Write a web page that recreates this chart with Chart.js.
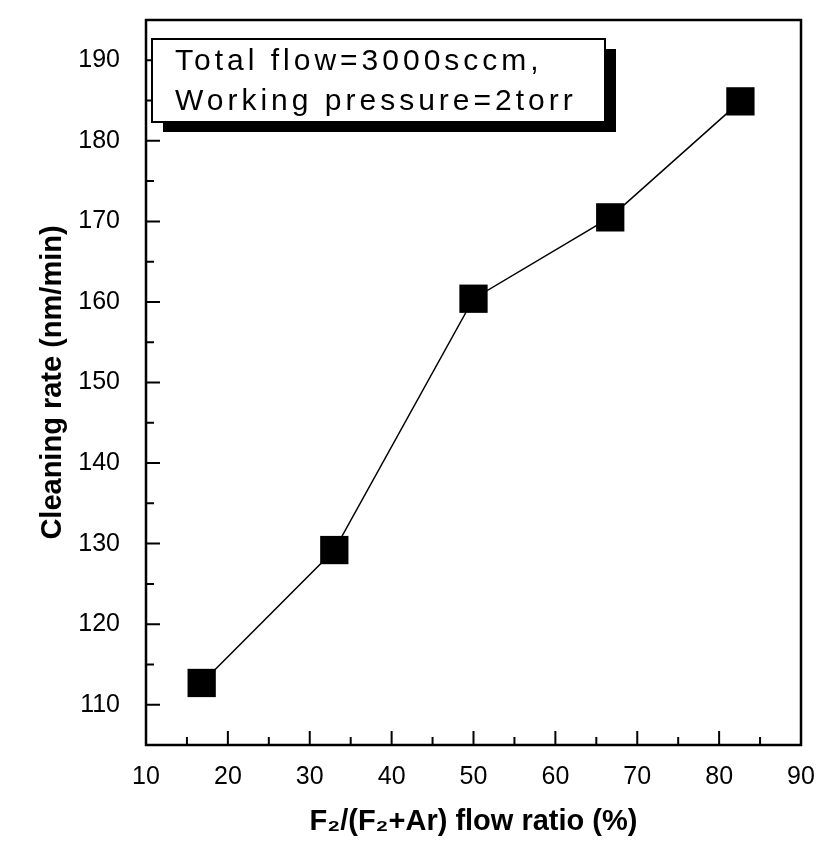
<!DOCTYPE html>
<html>
<head>
<meta charset="utf-8">
<script src="https://cdn.jsdelivr.net/npm/chart.js@4.4.0/dist/chart.umd.min.js"></script>
<style>
  html, body { margin: 0; padding: 0; background: #fff; }
  #wrap { width: 821px; height: 845px; position: relative; }
</style>
</head>
<body>
<div id="wrap"><canvas id="myChart1"></canvas></div>
<script>
// values
let flowRatio = [16.8, 33, 50, 66.7, 82.6];
let cleaningRate = [112.7, 129.2, 160.4, 170.5, 184.9];
let xTicks = [10, 20, 30, 40, 50, 60, 70, 80, 90];
let yTicks = [110, 120, 130, 140, 150, 160, 170, 180, 190];
let noteLines = ["Total flow=3000sccm,", "Working pressure=2torr"];

const FONT = "'Liberation Sans', Arial, sans-serif";

// inward major/minor ticks like the original plot
const inwardTicks = {
  id: 'inwardTicks',
  afterDatasetsDraw(chart) {
    const ctx = chart.ctx, a = chart.chartArea;
    const xs = chart.scales.x, ys = chart.scales.y;
    ctx.save();
    ctx.strokeStyle = '#000';
    ctx.lineWidth = 2;
    ctx.beginPath();
    for (let v = xs.min; v <= xs.max; v += 5) {
      let px = xs.getPixelForValue(v);
      let len = (v % 10 === 0) ? 14 : 8;
      ctx.moveTo(px, a.bottom); ctx.lineTo(px, a.bottom - len);
    }
    for (let v = 110; v <= ys.max; v += 5) {
      let py = ys.getPixelForValue(v);
      let len = (v % 10 === 0) ? 14 : 8;
      ctx.moveTo(a.left, py); ctx.lineTo(a.left + len, py);
    }
    ctx.stroke();
    // frame
    ctx.lineWidth = 2.5;
    ctx.strokeRect(a.left, a.top, a.right - a.left, a.bottom - a.top);
    ctx.restore();
  }
};

// text box with drop shadow
const noteBox = {
  id: 'noteBox',
  afterDatasetsDraw(chart) {
    const ctx = chart.ctx, a = chart.chartArea;
    let x = a.left + 6, y = a.top + 19, w = 453, h = 83;
    ctx.save();
    ctx.fillStyle = '#000';
    ctx.fillRect(x + 11, y + 10, w, h);
    ctx.fillStyle = '#fff';
    ctx.fillRect(x, y, w, h);
    ctx.strokeStyle = '#000';
    ctx.lineWidth = 2;
    ctx.strokeRect(x, y, w, h);
    ctx.fillStyle = '#000';
    ctx.font = "30px " + FONT;
    ctx.letterSpacing = '4px';
    ctx.textBaseline = 'alphabetic';
    ctx.fillText(noteLines[0], x + 23, y + 31);
    ctx.fillText(noteLines[1], x + 23, y + 71);
    ctx.restore();
  }
};

let chart = new Chart(document.getElementById('myChart1'), {
  type: 'scatter',
  data: {
    datasets: [{
      label: 'Cleaning rate',
      data: flowRatio.map((x, i) => ({x: x, y: cleaningRate[i]})),
      showLine: true,
      borderColor: '#000',
      borderWidth: 1.5,
      backgroundColor: '#000',
      pointStyle: 'rect',
      pointRadius: 20,
      pointHoverRadius: 20,
      pointBorderWidth: 0
    }]
  },
  options: {
    responsive: true,
    maintainAspectRatio: false,
    animation: false,
    events: [],
    layout: { padding: { top: 18, right: 19, left: 0, bottom: 0 } },
    plugins: { legend: { display: false }, tooltip: { enabled: false } },
    scales: {
      x: {
        type: 'linear',
        min: 10, max: 90,
        afterBuildTicks: s => { s.ticks = xTicks.map(v => ({value: v})); },
        afterFit: s => { s.height = 100; s.paddingLeft = 0; s.paddingRight = 0; },
        grid: { display: false },
        border: { display: false },
        ticks: { color: '#000', padding: 9, font: { family: FONT, size: 25 } },
        title: {
          display: true,
          text: 'F\u2082/(F\u2082+Ar) flow ratio (%)',
          color: '#000',
          font: { family: FONT, size: 29, weight: 'bold' },
          padding: { top: 0, bottom: 6 }
        }
      },
      y: {
        type: 'linear',
        min: 105, max: 195,
        afterBuildTicks: s => { s.ticks = yTicks.map(v => ({value: v})); },
        afterFit: s => { s.width = 146; s.paddingTop = 0; s.paddingBottom = 0; },
        grid: { display: false },
        border: { display: false },
        ticks: { color: '#000', padding: 18, font: { family: FONT, size: 25 } },
        title: {
          display: true,
          text: 'Cleaning rate (nm/min)',
          color: '#000',
          font: { family: FONT, size: 29, weight: 'bold' },
          padding: { top: 36, bottom: 0 }
        }
      }
    }
  },
  plugins: [inwardTicks, noteBox]
});
</script>
</body>
</html>
